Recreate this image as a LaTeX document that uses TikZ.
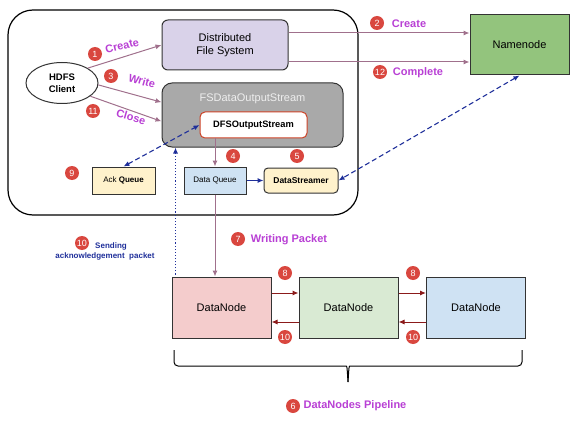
\documentclass[tikz,border=0pt]{standalone}
\usepackage{fontspec}
\setmainfont{Liberation Sans}
\usetikzlibrary{positioning,shapes.geometric,arrows.meta}

\definecolor{boxline}{HTML}{333333}
\definecolor{dfsfill}{HTML}{D9D2E9}
\definecolor{namegreen}{HTML}{93C47D}
\definecolor{fsgray}{HTML}{A9A9A9}
\definecolor{fstitle}{HTML}{EEEEEE}
\definecolor{dfsred}{HTML}{CC4125}
\definecolor{ackfill}{HTML}{FFF2CC}
\definecolor{qblue}{HTML}{CFE2F3}
\definecolor{dnpink}{HTML}{F4CCCC}
\definecolor{dngreen}{HTML}{D9EAD3}
\definecolor{badgered}{HTML}{D9473F}
\definecolor{msgpink}{HTML}{B83FD4}
\definecolor{flowmauve}{HTML}{A0708C}
\definecolor{pipered}{HTML}{8B1A1A}
\definecolor{acknavy}{HTML}{1F2F9A}

\begin{document}
\begin{tikzpicture}[x=1pt,y=-1pt,
	box/.style={draw=boxline,line width=1pt,inner sep=0pt},
	badge/.style={circle,fill=badgered,text=white,inner sep=0pt,minimum size=14pt,
		font=\fontsize{9}{9}\selectfont},
	msglabel/.style={text=msgpink,inner sep=1pt,font=\bfseries\fontsize{11}{11}\selectfont},
	flow/.style={draw=flowmauve,line width=1pt,-{Latex[length=6pt,width=5pt]}},
	pipe/.style={draw=pipered,line width=1pt,-{Latex[length=6pt,width=5pt]}},
	ackline/.style={draw=acknavy,line width=1.1pt,dash pattern=on 5pt off 3pt,
		{Latex[length=6pt,width=5pt]}-{Latex[length=6pt,width=5pt]}}
	]
	\useasboundingbox (0,0) rectangle (578,425);
	
	%client side frame
	\draw[line width=1.2pt,rounded corners=25pt] (8,10) rectangle (358,215);
	
	%boxes
	\node[box,ellipse,fill=white,minimum width=72pt,minimum height=41pt,align=center,
		font=\bfseries\fontsize{9.5}{11.5}\selectfont] (client) at (62,83) {HDFS\\Client};
	\node[box,rounded corners=6pt,fill=dfsfill,minimum width=126pt,minimum height=50pt,
		align=center,font=\fontsize{11}{13}\selectfont] (dfs) at (225,45) {Distributed\\File System};
	\node[box,fill=namegreen,minimum width=99pt,minimum height=60pt,
		font=\fontsize{11}{11}\selectfont] (namenode) at (519.5,45) {Namenode};
	\node[box,rounded corners=10pt,fill=fsgray,minimum width=181pt,minimum height=64pt] (fsdata) at (252.5,115) {};
	\node[text=fstitle,font=\fontsize{11}{11}\selectfont] (fstitle) at (252.5,99) {FSDataOutputStream};
	\node[draw=dfsred,line width=1pt,rounded corners=5pt,fill=white,minimum width=107pt,minimum height=26pt,
		font=\bfseries\fontsize{9.3}{10}\selectfont] (dfsout) at (253.5,125) {DFSOutputStream};
	\node[box,fill=ackfill,minimum width=63pt,minimum height=27pt,
		font=\fontsize{8}{8}\selectfont] (ackq) at (123.5,180.5) {Ack \textbf{Queue}};
	\node[box,fill=qblue,minimum width=62pt,minimum height=27pt,
		font=\fontsize{8}{8}\selectfont] (dataq) at (215,180.5) {Data Queue};
	\node[box,rounded corners=4pt,fill=ackfill,minimum width=74pt,minimum height=25pt,
		font=\bfseries\fontsize{8.5}{9}\selectfont] (streamer) at (301,180.5) {DataStreamer};
	
	%datanodes
	\node[box,fill=dnpink,minimum width=99pt,minimum height=61pt,
		font=\fontsize{11}{11}\selectfont] (dn1) at (221.5,307.5) {DataNode};
	\node[box,fill=dngreen,minimum width=99pt,minimum height=61pt,
		font=\fontsize{11}{11}\selectfont] (dn2) at (348.5,307.5) {DataNode};
	\node[box,fill=qblue,minimum width=99pt,minimum height=61pt,
		font=\fontsize{11}{11}\selectfont] (dn3) at (476,307.5) {DataNode};
	
	%client calls
	\draw[flow] (client.30) -- (dfs.west);
	\draw[flow] (client.-3) -- (fsdata.172);
	\draw[flow] (client.-25) -- (fsdata.184);
	\draw[flow] ([yshift=12pt]dfs.east) -- ([yshift=12pt]namenode.west);
	\draw[flow] ([yshift=-17pt]dfs.east) -- ([yshift=-17pt]namenode.west);
	
	%packets
	\draw[flow] (dfsout.south -| dataq.north) -- (dataq.north);
	\draw[draw=acknavy,line width=1pt,-{Latex[length=6pt,width=5pt]}] (dataq) -- (streamer);
	\draw[flow] (dataq.south) -- (dataq.south |- dn1.north);
	\draw[ackline] (ackq.north) -- (dfsout.west);
	\draw[ackline] (namenode.south) -- (streamer.east);
	\coordinate (dotfoot) at ([shift={(4,-2)}]dn1.north west);
	\draw[acknavy,line width=1.1pt,dotted,-{Latex[length=6pt,width=5pt]}] (dotfoot) -- (dotfoot |- fsdata.south);
	
	%pipeline
	\draw[pipe] ([yshift=14.5pt]dn1.east) -- ([yshift=14.5pt]dn2.west);
	\draw[pipe] ([yshift=14.5pt]dn2.east) -- ([yshift=14.5pt]dn3.west);
	\draw[pipe] ([yshift=-14.5pt]dn2.west) -- ([yshift=-14.5pt]dn1.east);
	\draw[pipe] ([yshift=-14.5pt]dn3.west) -- ([yshift=-14.5pt]dn2.east);
	
	%brace under the datanodes
	\draw[line width=1pt,rounded corners=4pt] (174,350) |- (342,366) .. controls (347,366) .. (348,382);
	\draw[line width=1pt,rounded corners=4pt] (522,350) |- (354,366) .. controls (349,366) .. (348,382);
	
	%numbers and labels
	\node[badge] (b1) at (95,54) {1};
	\node[msglabel,rotate=14] (lcreate) at (122,46) {Create};
	\node[badge] (b3) at (111,76) {3};
	\node[msglabel,rotate=-16] (lwrite) at (142,81) {Write};
	\node[badge] (b11) at (93,111) {11};
	\node[msglabel,rotate=-16] (lclose) at (131,117) {Close};
	\node[badge] (b2) at (377,23) {2};
	\node[msglabel] (lcreate2) at (409,24) {Create};
	\node[badge] (b12) at (380,72) {12};
	\node[msglabel] (lcomplete) at (418,73) {Complete};
	\node[badge] (b4) at (233,156) {4};
	\node[badge] (b5) at (297,156) {5};
	\node[badge] (b9) at (72,173) {9};
	\node[badge] (b7) at (238,239) {7};
	\node[msglabel] (lwriting) at (289,240) {Writing Packet};
	\node[badge] (b10) at (82,243) {10};
	\node[text=acknavy,align=center,inner sep=0pt,
		font=\bfseries\fontsize{8}{9.5}\selectfont] (lsending) at (105,251.5) {\hspace*{12pt}Sending\\acknowledgement~~packet};
	\node[badge] (b8a) at (285,273) {8};
	\node[badge] (b8b) at (413,273) {8};
	\node[badge] (b10a) at (285,337) {10};
	\node[badge] (b10b) at (413,337) {10};
	\node[badge] (b6) at (293,406) {6};
	\node[msglabel] (lpipeline) at (355,406) {DataNodes Pipeline};
\end{tikzpicture}
\end{document}
